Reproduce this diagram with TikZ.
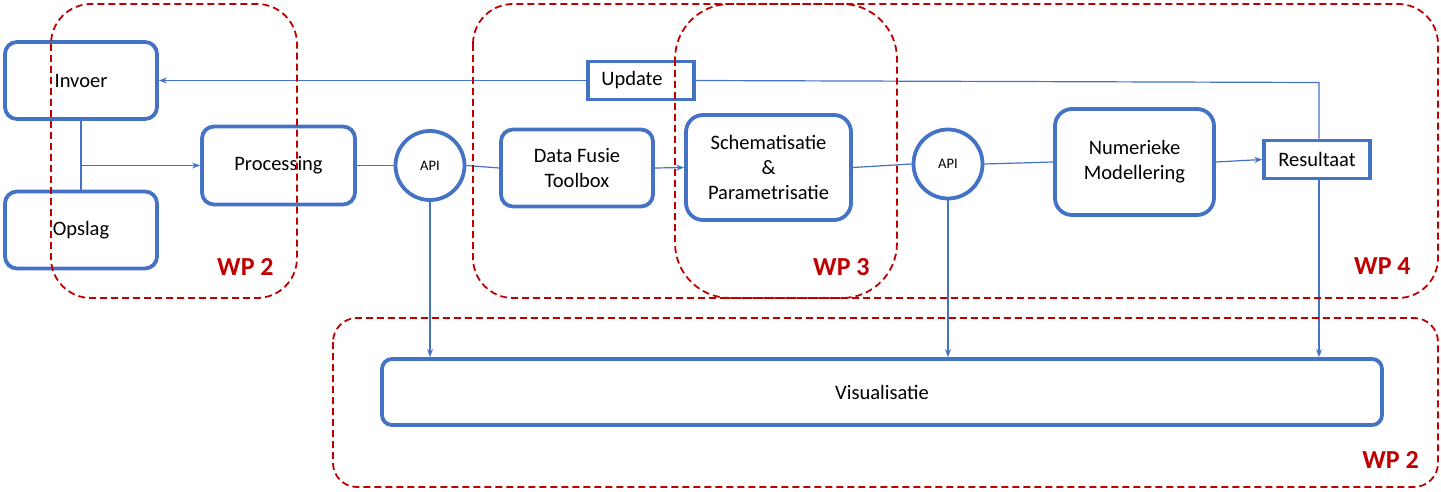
\documentclass[tikz,border=0pt]{standalone}
\usepackage{fontspec}
\setmainfont{Carlito}
\usetikzlibrary{arrows.meta,calc}
\definecolor{bblue}{HTML}{4472C4}
\definecolor{wpred}{HTML}{C00000}
\begin{document}
\begin{tikzpicture}[x=1pt,y=-1pt,
  box/.style={draw=bblue,line width=3.8pt,rounded corners=12pt,fill=white,inner sep=0pt,align=center,font=\fontsize{20.5}{25}\selectfont},
  sqbox/.style={draw=bblue,line width=3.5pt,fill=white,inner sep=0pt,align=center,font=\fontsize{20.5}{25}\selectfont},
  apinode/.style={draw=bblue,line width=3.8pt,circle,fill=white,inner sep=0pt,minimum size=69pt,font=\fontsize{14.5}{16}\selectfont},
  conn/.style={draw=bblue,line width=1.2pt},
  arr/.style={conn,-{Stealth[length=8pt,width=6pt]}},
  wp/.style={draw=wpred,line width=1.8pt,dash pattern=on 7pt off 4pt},
  wplabel/.style={text=wpred,font=\fontsize{26}{28}\selectfont\bfseries,inner sep=0pt}]
\useasboundingbox (0,0) rectangle (1441,492);
% nodes
\node[box,minimum width=152pt,minimum height=77pt] (inv) at (81,80.5) {Invoer};
\node[box,minimum width=152pt,minimum height=77pt] (ops) at (81,230) {Opslag};
\node[box,minimum width=153pt,minimum height=78pt] (proc) at (278.5,165.5) {Processing};
\node[apinode] (api1) at (430,165.5) {API};
\node[box,minimum width=152pt,minimum height=77pt] (dft) at (577,168) {Data Fusie\\Toolbox};
\node[box,minimum width=165pt,minimum height=105pt,rounded corners=17pt] (sch) at (768.5,167.5) {Schematisatie\\\&\\Parametrisatie};
\node[apinode] (api2) at (948,164) {API};
\node[box,minimum width=159pt,minimum height=106pt,rounded corners=17pt] (num) at (1134.5,162) {Numerieke\\Modellering};
\node[sqbox,minimum width=106pt,minimum height=38pt] (res) at (1317,159.5) {Resultaat};
\node[sqbox,minimum width=106pt,minimum height=38pt] (upd) at (641,80.5) {\hspace*{-18pt}Update};
\node[box,minimum width=1000pt,minimum height=66pt,rounded corners=10pt] (vis) at (882,392) {Visualisatie};
% connectors
\coordinate (split) at (inv.south |- proc.west);
\draw[conn] (inv.south) -- (ops.north);
\draw[arr] (split) -- (proc.west);
\draw[conn] (proc.east) -- (api1.west);
\draw[conn] (api1.east) -- (dft.west);
\draw[arr] (dft.east) -- (sch.west);
\draw[conn] (sch.east) -- (api2.west);
\draw[conn] (api2.east) -- (num.west);
\draw[arr] (num.east) -- (res.west);
\coordinate (rn) at ($(res.north)+(2,0)$);
\coordinate (rs) at ($(res.south)+(2,0)$);
\coordinate (rtop) at (1319,82.5);
\draw[conn] (rn) -- (rtop) -- (upd.east);
\draw[arr] (upd.west) -- (inv.east);
\draw[arr] (rs) -- (rs |- vis.north);
\draw[arr] (api1.south) -- (api1.south |- vis.north);
\draw[arr] (api2.south) -- (api2.south |- vis.north);
% work packages
\draw[wp,rounded corners=40pt] (51,4) rectangle (297,298);
\draw[wp,rounded corners=40pt] (473,4) rectangle (1438,298);
\draw[wp,rounded corners=55pt] (675,4) rectangle (897,298);
\draw[wp,rounded corners=24pt] (333,318) rectangle (1438,487);
\node[wplabel,anchor=west] (wp2a) at (217,267) {WP 2};
\node[wplabel,anchor=west] (wp3) at (813,267) {WP 3};
\node[wplabel,anchor=west] (wp4) at (1354,266) {WP 4};
\node[wplabel,anchor=east] (wp2b) at (1419,460) {WP 2};
\end{tikzpicture}
\end{document}
